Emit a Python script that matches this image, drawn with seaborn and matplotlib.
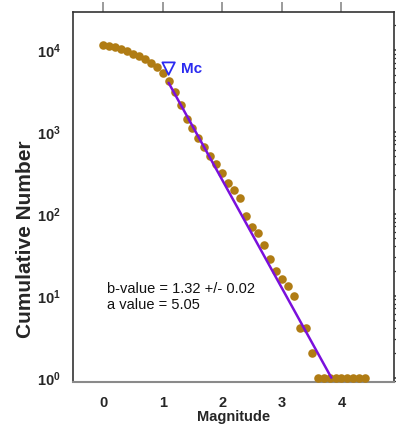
import numpy as np
import pandas as pd
import matplotlib
matplotlib.use("Agg")
import matplotlib.pyplot as plt
import seaborn as sns
from matplotlib.ticker import LogLocator, FixedLocator, FuncFormatter

# ---- data ----
magnitude = [0.0, 0.1, 0.2, 0.3, 0.4, 0.5, 0.6, 0.7, 0.8, 0.9,
             1.0, 1.1, 1.2, 1.3, 1.4, 1.5, 1.6, 1.7, 1.8, 1.9,
             2.0, 2.1, 2.2, 2.3, 2.4, 2.5, 2.6, 2.7, 2.8, 2.9,
             3.0, 3.1, 3.2, 3.3, 3.4, 3.5, 3.6, 3.7, 3.8, 3.9,
             4.0, 4.1, 4.2, 4.3, 4.4]
cumulative = [11500, 11100, 10700, 10200, 9700, 9000, 8300, 7700, 7000, 6200,
              5250, 4170, 3100, 2140, 1450, 1100, 830, 650, 500, 410,
              310, 235, 195, 157, 95, 69, 58, 42, 28, 20,
              16, 13, 10, 4, 4, 2, 1, 1, 1, 1,
              1, 1, 1, 1, 1]
fit_mag = [1.1, 3.83]
fit_n = [3960, 1.0]
mc_mag = [1.1]
mc_n = [5900]
b_text = "b-value = 1.32 +/- 0.02"
a_text = "a value = 5.05"
x_ticks = [0, 1, 2, 3, 4]
y_ticks = [1, 10, 100, 1000, 10000]

df = pd.DataFrame({"Magnitude": magnitude, "N": cumulative})
fit = pd.DataFrame({"Magnitude": fit_mag, "N": fit_n})

sns.set_style("white")
plt.rcParams["font.family"] = ["Liberation Sans", "DejaVu Sans"]
plt.rcParams["mathtext.fontset"] = "custom"
plt.rcParams["mathtext.rm"] = "Liberation Sans:bold"
plt.rcParams["mathtext.it"] = "Liberation Sans:bold"
plt.rcParams["mathtext.bf"] = "Liberation Sans:bold"

fig = plt.figure(figsize=(3.96, 4.26), dpi=100)
ax = fig.add_axes([0.185, 0.104, 0.809, 0.868])

pt_color = "#B07C14"
line_color = "#7A10DC"
mc_color = "#2B2BF0"

sns.scatterplot(data=df, x="Magnitude", y="N", ax=ax, color=pt_color,
                s=38, linewidth=0, zorder=3)
sns.lineplot(data=fit, x="Magnitude", y="N", ax=ax, color=line_color,
             linewidth=1.8, zorder=4)
ax.scatter(mc_mag, mc_n, marker="v", s=80, facecolors="none",
           edgecolors=mc_color, linewidths=1.3, zorder=5)
ax.text(mc_mag[0] + 0.2, mc_n[0], "Mc", color=mc_color, fontsize=11,
        fontweight="bold", va="center", ha="left")

ax.set_yscale("log")
ax.set_xlim(-0.5, 4.875)
ax.set_ylim(0.894, 29000)

ax.xaxis.set_major_locator(FixedLocator(x_ticks))
ax.yaxis.set_major_locator(FixedLocator(y_ticks))
ax.yaxis.set_minor_locator(LogLocator(base=10, subs=np.arange(2, 10), numticks=20))
ax.yaxis.set_major_formatter(FuncFormatter(lambda v, p: r"$10^{%d}$" % int(round(np.log10(v)))))

ax.tick_params(axis="x", which="major", direction="out", length=7, width=1.2,
               color="#8a8a8a", top=True, labelsize=10.5, pad=3)
ax.tick_params(axis="y", which="major", direction="out", length=7, width=1.1,
               color="#333333", right=True, labelsize=10.5, pad=2)
ax.tick_params(axis="y", which="minor", direction="out", length=4, width=0.9,
               color="#333333", right=True)
for lab in ax.get_xticklabels() + ax.get_yticklabels():
    lab.set_fontweight("bold")

for side in ["left", "top", "right"]:
    ax.spines[side].set_color("#333333")
    ax.spines[side].set_linewidth(1.2)
ax.spines["bottom"].set_color("#8a8a8a")
ax.spines["bottom"].set_linewidth(1.5)

ax.set_xlabel("Magnitude", fontsize=10.5, fontweight="bold", labelpad=0)
ax.set_ylabel("Cumulative Number", fontsize=15, fontweight="bold")
ax.yaxis.set_label_coords(-0.12, 0.386)

ax.text(0.104, 0.251, b_text, transform=ax.transAxes, fontsize=10.5,
        va="center", ha="left", color="#111111")
ax.text(0.104, 0.207, a_text, transform=ax.transAxes, fontsize=10.5,
        va="center", ha="left", color="#111111")

fig.savefig("out.png", dpi=100)
